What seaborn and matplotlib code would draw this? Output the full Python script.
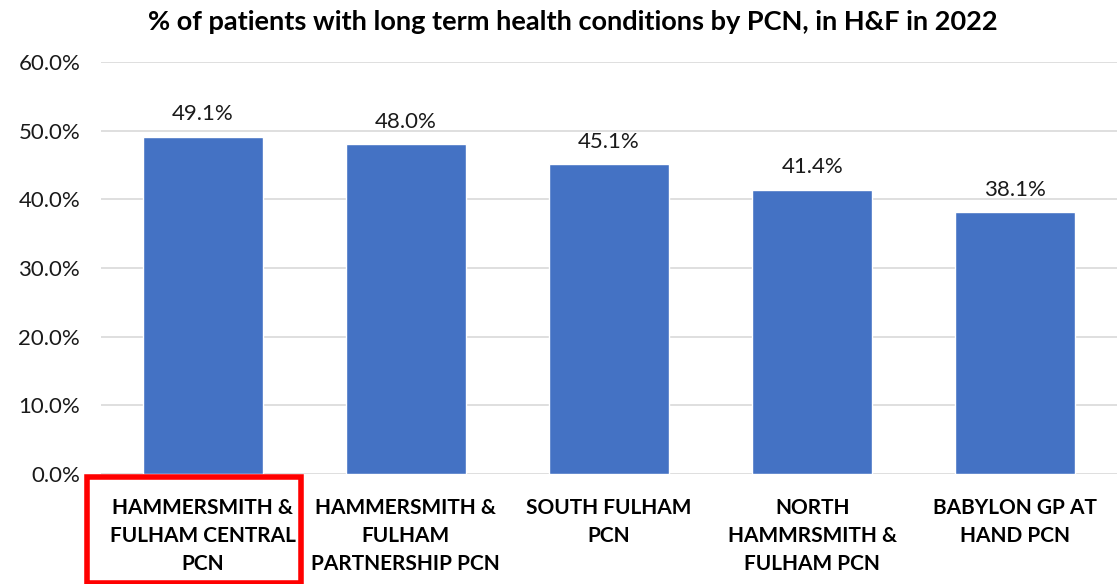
import numpy as np
import pandas as pd
import seaborn as sns
import matplotlib.pyplot as plt
from matplotlib.patches import Rectangle

# datos
pcn_labels = ["HAMMERSMITH &\nFULHAM CENTRAL\nPCN",
              "HAMMERSMITH &\nFULHAM\nPARTNERSHIP PCN",
              "SOUTH FULHAM\nPCN",
              "NORTH\nHAMMRSMITH &\nFULHAM PCN",
              "BABYLON GP AT\nHAND PCN"]
pct_values = [49.1, 48.0, 45.1, 41.4, 38.1]
y_ticks = [0, 10, 20, 30, 40, 50, 60]

sns.set_theme(style="white")
plt.rcParams['font.family'] = ['Lato', 'DejaVu Sans']

df = pd.DataFrame({"pcn": pcn_labels, "pct": pct_values})

fig = plt.figure(figsize=(11.17, 5.84), dpi=100)
ax = fig.add_axes([0.0904, 0.188, 0.9096, 0.706])

sns.barplot(data=df, x="pcn", y="pct", color="#4472C4", width=0.59,
            saturation=1, ax=ax, zorder=3)

ax.set_ylim(0, 60)
ax.set_yticks(y_ticks)
ax.set_yticklabels([f"{t:.1f}%" for t in y_ticks], fontsize=16, color="#1a1a1a")
ax.yaxis.grid(True, color="#D9D9D9", linewidth=1.2, zorder=0)
ax.set_axisbelow(True)
ax.set_xlim(-0.5, 4.5)
ax.tick_params(axis="y", length=0, pad=15)
ax.tick_params(axis="x", length=0, pad=17)
ax.set_xticks(range(len(pcn_labels)))
ax.set_xticklabels(pcn_labels, fontsize=15, fontweight="bold", color="black",
                   linespacing=1.5)
ax.set_xlabel("")
ax.set_ylabel("")
for s in ax.spines.values():
    s.set_visible(False)

for i, v in enumerate(pct_values):
    ax.annotate(f"{v:.1f}%", (i, v), xytext=(0, 9), textcoords="offset points",
                ha="center", va="bottom", fontsize=16, color="#1a1a1a")

fig.text(0.513, 0.962, "% of patients with long term health conditions by PCN, in H&F in 2022",
         ha="center", va="center", fontsize=19.5, fontweight="bold", color="black")

# recuadro rojo sobre la primera etiqueta
fig.patches.append(Rectangle((87 / 1117, 1 / 584), 214 / 1117, (583 - 477) / 584,
                             transform=fig.transFigure, fill=False,
                             edgecolor="#FF0000", linewidth=4, zorder=10))

fig.savefig("out.png", dpi=100)
